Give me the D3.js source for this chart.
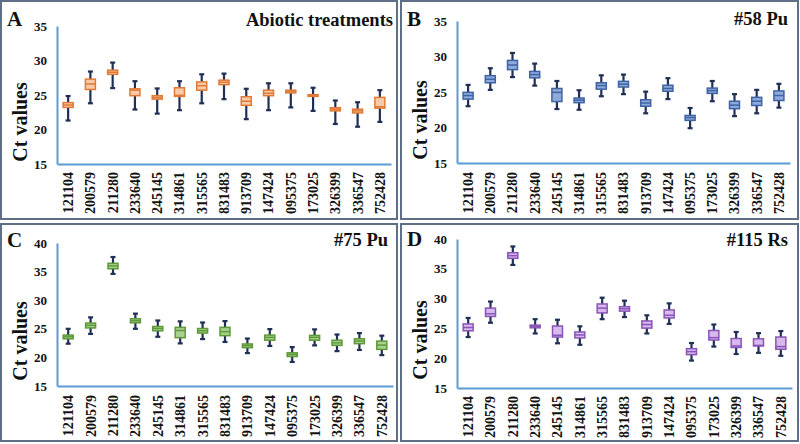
<!DOCTYPE html>
<html>
<head>
<meta charset="utf-8">
<script src="https://cdn.jsdelivr.net/npm/d3@7/dist/d3.min.js"></script>
<style>
  html, body { margin: 0; padding: 0; background: #fff; }
  svg { display: block; }
  text { font-family: "Liberation Serif", "Times New Roman", serif; font-weight: bold; fill: #111; }
</style>
</head>
<body>
<svg id="chart" width="800" height="444"></svg>
<script>
const genes = ["121104","200579","211280","233640","245145","314861","315565","831483","913709","147424","095375","173025","326399","336547","752428"];

// Panel A – Abiotic treatments
const aMin = [21.3,23.8,26.0,22.9,22.3,22.8,23.8,24.4,21.5,22.8,23.2,22.7,20.8,20.4,21.1];
const aQ1  = [23.2,25.8,28.0,24.9,24.4,24.8,25.7,26.5,23.5,24.9,25.3,24.8,22.7,22.4,23.1];
const aMed = [23.55,26.6,28.3,25.7,24.65,24.95,26.35,26.85,24.1,25.25,25.5,24.9,22.95,22.7,23.3];
const aQ3  = [23.9,27.3,28.6,25.9,24.9,26.05,26.9,27.15,24.75,25.7,25.7,25.05,23.15,22.95,24.65];
const aMax = [24.85,28.4,29.7,27.0,25.95,27.0,28.0,28.1,25.9,26.7,26.7,26.05,24.2,23.95,25.7];

// Panel B – #58 Pu
const bMin = [23.0,25.3,27.1,25.9,22.6,22.5,24.4,24.7,22.0,24.0,19.9,23.7,21.6,22.0,22.8];
const bQ1  = [24.0,26.3,28.15,27.0,23.65,23.5,25.4,25.7,23.0,25.1,21.0,24.8,22.65,23.1,23.8];
const bMed = [24.5,26.8,28.8,27.45,24.95,23.85,25.9,26.1,23.45,25.5,21.4,25.2,23.15,23.7,24.5];
const bQ3  = [24.95,27.3,29.45,27.9,25.5,24.15,26.3,26.5,23.9,25.95,21.7,25.55,23.7,24.25,25.15];
const bMax = [26.0,28.35,30.5,29.0,26.55,25.25,27.35,27.45,25.05,26.95,22.75,26.55,24.7,25.3,26.15];

// Panel C – #75 Pu
const cMin = [22.4,24.1,34.6,25.0,23.6,22.45,23.2,22.7,20.75,22.0,19.2,22.1,21.1,21.3,20.4];
const cQ1  = [23.25,25.15,35.5,26.05,24.65,23.45,24.25,23.8,21.7,23.0,20.15,23.0,22.1,22.4,21.4];
const cMed = [23.6,25.6,36.0,26.4,25.05,24.7,24.65,24.5,22.05,23.5,20.5,23.5,22.55,22.85,22.15];
const cQ3  = [23.9,26.0,36.45,26.75,25.4,25.25,25.05,25.25,22.35,23.9,20.8,23.85,23.0,23.25,22.85];
const cMax = [25.0,27.0,37.55,27.65,26.45,26.3,26.1,26.35,23.3,24.95,21.8,24.9,24.0,24.25,23.8];

// Panel D – #115 Rs
const dMin = [23.55,25.95,35.65,24.15,22.5,22.25,26.55,26.9,24.15,25.75,19.6,21.95,20.7,20.9,20.4];
const dQ1  = [24.6,27.0,36.75,25.1,23.55,23.4,27.6,27.9,25.05,26.75,20.6,23.05,21.8,22.05,21.5];
const dMed = [25.15,27.45,37.2,25.35,23.85,23.9,28.4,28.3,25.65,27.2,21.1,23.45,22.05,22.15,21.95];
const dQ3  = [25.75,28.4,37.7,25.55,25.4,24.4,29.1,28.65,26.25,28.1,21.6,24.65,23.3,23.25,23.55];
const dMax = [26.75,29.5,38.75,26.55,26.45,25.35,30.15,29.65,27.2,29.2,22.55,25.65,24.4,24.2,24.55];

const yTicksAB = [15,20,25,30,35];
const yTicksCD = [15,20,25,30,35,40];

const panels = [
  { letter:"A", title:"Abiotic treatments", mn:aMin, q1:aQ1, md:aMed, q3:aQ3, mx:aMax, ticks:yTicksAB, domain:[15,35],
    frame:[1,1,396,218], ax:57, top:26, bottom:164, right:391, fill:"#f9caa7", stroke:"#e07a36",
    ylabY:122, titleX:393, titleY:26, letterX:7, letterY:26, xlabY:172 },
  { letter:"B", title:"#58 Pu", mn:bMin, q1:bQ1, md:bMed, q3:bQ3, mx:bMax, ticks:yTicksAB, domain:[15,35],
    frame:[401,1,397,218], ax:457, top:21, bottom:163, right:790, fill:"#8eaadb", stroke:"#3f63a3",
    ylabY:120, titleX:788, titleY:25, letterX:407, letterY:26, xlabY:172 },
  { letter:"C", title:"#75 Pu", mn:cMin, q1:cQ1, md:cMed, q3:cQ3, mx:cMax, ticks:yTicksCD, domain:[15,40],
    frame:[1,224,396,217], ax:57, top:243, bottom:386, right:393, fill:"#a9d18e", stroke:"#5e9a3a",
    ylabY:341, titleX:388, titleY:246, letterX:7, letterY:247, xlabY:395 },
  { letter:"D", title:"#115 Rs", mn:dMin, q1:dQ1, md:dMed, q3:dQ3, mx:dMax, ticks:yTicksCD, domain:[15,40],
    frame:[401,224,397,217], ax:457, top:239, bottom:388, right:792, fill:"#d7b9ee", stroke:"#8a55b8",
    ylabY:340, titleX:788, titleY:246, letterX:407, letterY:246, xlabY:396 }
];

const svg = d3.select("#chart");
const whiskerColor = "#1f2f55";

panels.forEach(p => {
  const g = svg.append("g");
  g.append("rect")
    .attr("x", p.frame[0]).attr("y", p.frame[1])
    .attr("width", p.frame[2]).attr("height", p.frame[3])
    .attr("fill", "none").attr("stroke", "#5f6f85").attr("stroke-width", 2);

  const x = d3.scaleBand().domain(genes).range([p.ax, p.right]);
  const y = d3.scaleLinear().domain(p.domain).range([p.bottom, p.top]);

  const yAxis = g.append("g").attr("transform", `translate(${p.ax},0)`)
    .call(d3.axisLeft(y).tickValues(p.ticks).tickSize(0).tickPadding(10).tickFormat(d3.format("d")));
  yAxis.select(".domain").attr("stroke", "#5b9bd5").attr("stroke-width", 2);
  yAxis.selectAll("text").style("font-size", "13px").attr("fill", "#111")
    .style("font-family", "'Liberation Serif', serif").style("font-weight", "bold");

  const xAxis = g.append("g").attr("transform", `translate(0,${p.bottom})`)
    .call(d3.axisBottom(x).tickSize(0).tickFormat(""));
  xAxis.select(".domain").attr("stroke", "#5b9bd5").attr("stroke-width", 2);

  g.selectAll(".xl").data(genes).enter().append("text")
    .attr("transform", d => `translate(${x(d) + x.bandwidth()/2},${p.xlabY}) rotate(-90)`)
    .attr("text-anchor", "end").attr("dy", "0.35em")
    .style("font-size", "14px")
    .text(d => d);

  const bw = 10, cap = 5;
  const cx = i => x(genes[i]) + x.bandwidth()/2;
  const idx = d3.range(genes.length);

  g.selectAll(".wh").data(idx).enter().append("line")
    .attr("x1", cx).attr("x2", cx)
    .attr("y1", i => y(p.mx[i])).attr("y2", i => y(p.mn[i]))
    .attr("stroke", whiskerColor).attr("stroke-width", 2.2);
  g.selectAll(".capt").data(idx).enter().append("line")
    .attr("x1", i => cx(i) - cap/2).attr("x2", i => cx(i) + cap/2)
    .attr("y1", i => y(p.mx[i])).attr("y2", i => y(p.mx[i]))
    .attr("stroke", whiskerColor).attr("stroke-width", 2.2);
  g.selectAll(".capb").data(idx).enter().append("line")
    .attr("x1", i => cx(i) - cap/2).attr("x2", i => cx(i) + cap/2)
    .attr("y1", i => y(p.mn[i])).attr("y2", i => y(p.mn[i]))
    .attr("stroke", whiskerColor).attr("stroke-width", 2.2);

  g.selectAll(".bx").data(idx).enter().append("rect")
    .attr("x", i => cx(i) - bw/2).attr("width", bw)
    .attr("y", i => y(p.q3[i])).attr("height", i => Math.max(1, y(p.q1[i]) - y(p.q3[i])))
    .attr("fill", p.fill).attr("stroke", p.stroke).attr("stroke-width", 1.5);
  g.selectAll(".md").data(idx).enter().append("line")
    .attr("x1", i => cx(i) - bw/2).attr("x2", i => cx(i) + bw/2)
    .attr("y1", i => y(p.md[i])).attr("y2", i => y(p.md[i]))
    .attr("stroke", p.stroke).attr("stroke-width", 1.5);

  g.append("text")
    .attr("transform", `translate(${p.ax - 37},${p.ylabY}) rotate(-90)`)
    .attr("text-anchor", "middle").attr("dy", "0.35em")
    .style("font-size", "20px")
    .text("Ct values");

  g.append("text").attr("x", p.letterX).attr("y", p.letterY)
    .style("font-size", "21px").text(p.letter);

  g.append("text").attr("x", p.titleX).attr("y", p.titleY)
    .attr("text-anchor", "end").style("font-size", "18.5px").text(p.title);
});
</script>
</body>
</html>
